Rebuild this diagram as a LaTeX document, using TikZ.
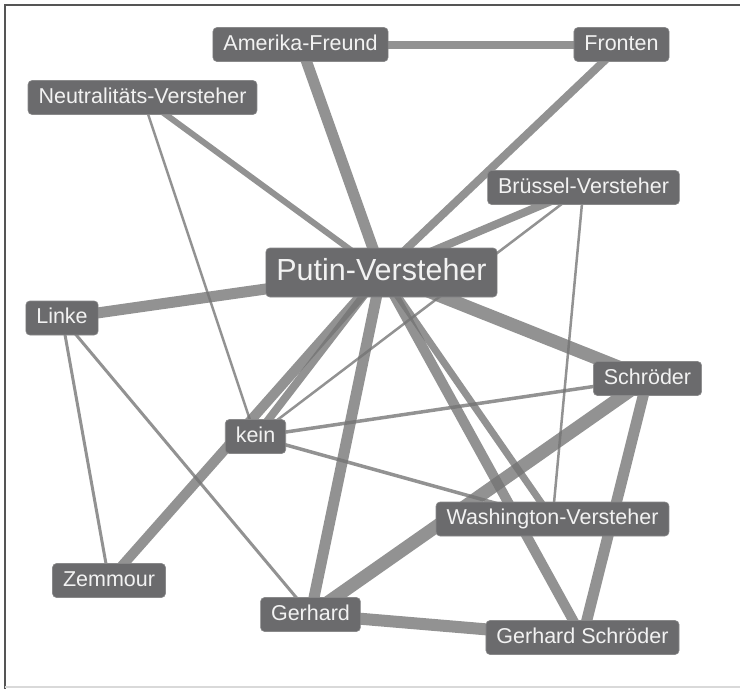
\documentclass[tikz,border=0pt]{standalone}
\usepackage{fontspec}
\setmainfont{Liberation Sans}
\usetikzlibrary{backgrounds}
\definecolor{boxgray}{HTML}{6B6B6D}
\definecolor{linkgray}{HTML}{737373}
\definecolor{framegray}{HTML}{555555}
\tikzset{
  term/.style={fill=boxgray, draw=boxgray!80!white, line width=0.6pt, rounded corners=4pt,
    text=white!95!black, inner xsep=10.5pt, inner ysep=0pt, minimum height=34pt,
    font=\fontsize{21.5}{24}\selectfont, text height=15.5pt, text depth=4.5pt},
  hub/.style={term, minimum height=49pt, font=\fontsize{30.5}{34}\selectfont,
    text height=22pt, text depth=6.5pt},
  link/.style={draw=linkgray, opacity=0.78, line width=#1}
}

\begin{document}
\begin{tikzpicture}[x=1pt, y=-1pt]
		%%%%% START %%%%%
		\useasboundingbox (0, 0) rectangle (740, 689);
		
		% frame
		\draw[framegray, line width=2.5pt] (5, 689) -- (5, 5) -- (740, 5);
		\draw[black!15, line width=1.2pt] (5, 687) -- (740, 687);
		
		% terms
		\node[term] (amerika) at (300.5, 44.5) {Amerika-Freund};
		\node[term] (fronten) at (621.5, 44.5) {Fronten};
		\node[term] (neutral) at (142.5, 97.5) {Neutralitäts-Versteher};
		\node[term] (bruessel) at (583.5, 187.5) {Brüssel-Versteher};
		\node[hub] (putin) at (381.5, 272.5) {Putin-Versteher};
		\node[term] (linke) at (62, 318) {Linke};
		\node[term] (schroeder) at (647.5, 378.5) {Schröder};
		\node[term] (kein) at (255.5, 436.5) {kein};
		\node[term] (washington) at (552.5, 519) {Washington-Versteher};
		\node[term] (zemmour) at (109, 580.5) {Zemmour};
		\node[term] (gerhard) at (310.5, 614.5) {Gerhard};
		\node[term] (gschroeder) at (582.5, 637.5) {Gerhard Schröder};
		
		% links
		\begin{scope}[on background layer]
			\draw[link=8pt] (amerika.center) -- (fronten.center);
			\draw[link=11pt] (amerika.center) -- (putin.center);
			\draw[link=8pt] (fronten.center) -- (putin.center);
			\draw[link=6pt] (neutral.center) -- (putin.center);
			\draw[link=2.5pt] (neutral.center) -- (kein.center);
			\draw[link=11pt] (linke.center) -- (putin.center);
			\draw[link=3pt] (linke.center) -- (zemmour.center);
			\draw[link=3pt] (linke.center) -- (gerhard.center);
			\draw[link=8pt] (bruessel.center) -- (putin.center);
			\draw[link=2.5pt] (bruessel.center) -- (kein.center);
			\draw[link=2.5pt] (bruessel.center) -- (washington.center);
			\draw[link=13pt] (putin.center) -- (schroeder.center);
			\draw[link=8pt] (putin.center) -- (kein.center);
			\draw[link=10pt] (putin.center) -- (zemmour.center);
			\draw[link=11pt] (putin.center) -- (gerhard.center);
			\draw[link=7pt] (putin.center) -- (washington.center);
			\draw[link=10pt] (putin.center) -- (gschroeder.center);
			\draw[link=3.5pt] (kein.center) -- (schroeder.center);
			\draw[link=3.5pt] (kein.center) -- (washington.center);
			\draw[link=13pt] (schroeder.center) -- (gerhard.center);
			\draw[link=11pt] (schroeder.center) -- (gschroeder.center);
			\draw[link=12pt] (gerhard.center) -- (gschroeder.center);
		\end{scope}
		%%%%% END %%%%%
	\end{tikzpicture}
\end{document}
